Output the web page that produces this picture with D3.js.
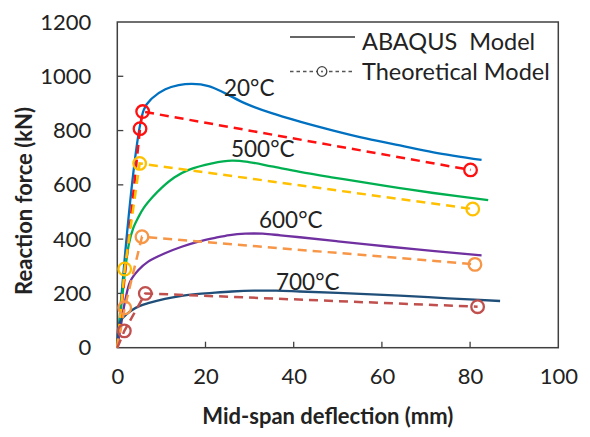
<!DOCTYPE html>
<html><head><meta charset="utf-8">
<script src="https://cdn.jsdelivr.net/npm/d3@7"></script>
<style>
html,body{margin:0;padding:0;background:#fff;}
svg{display:block;font-family:Lato,"Open Sans",sans-serif;}
</style></head>
<body><svg id="chart" width="590" height="437"></svg>
<script>
// ---- data ----
const xTicks = [0, 20, 40, 60, 80, 100];
const yTicks = [0, 200, 400, 600, 800, 1000, 1200];
const seriesNames = ["20°C", "500°C", "600°C", "700°C"];

const abaqus20X = [0, 6.0, 7.9, 10.9, 13.9, 16.9, 20.7, 24.5, 29.0, 35.0, 41.4, 49.0, 56.6, 64.1, 71.7, 82.6];
const abaqus20Y = [0, 876, 919, 952, 967, 972, 964, 937, 900, 864, 833, 800, 770, 745, 720, 692];

const abaqus500X = [0, 2.6, 3.6, 4.85, 6.0, 8.0, 10.1, 13.0, 16.2, 21.5, 26.0, 29.8, 35.0, 41.4, 49.0, 56.6, 64.1, 71.7, 84.1];
const abaqus500Y = [0, 380, 440, 483, 515, 555, 590, 628, 655, 679, 689, 684, 668, 648, 627, 607, 588, 570, 544];

const abaqus600X = [0, 1.0, 1.75, 2.9, 4.8, 7.0, 10.8, 14.6, 18.4, 22.2, 25.5, 29.0, 33.0, 37.0, 41.4, 50.0, 61.8, 72.0, 82.6];
const abaqus600Y = [0, 100, 170, 243, 286, 317, 348, 372, 391, 405, 415, 420, 420, 414, 407, 392, 372, 356, 340];

const abaqus700X = [0, 0.3, 1.0, 2.0, 3.3, 5.0, 7.0, 10.8, 14.6, 18.4, 22.2, 26.0, 31.0, 36.0, 41.4, 50.0, 64.0, 75.0, 86.8];
const abaqus700Y = [0, 80, 105, 122, 138, 153, 164, 180, 191, 198, 203, 207, 210, 210, 207, 202, 192, 182, 172];

const theory20X = [0, 5.15, 5.75, 80.1];
const theory20Y = [0, 807, 870, 655];
const theory500X = [0, 1.68, 5.07, 80.6];
const theory500Y = [0, 290, 679, 511];
const theory600X = [0, 1.68, 5.6, 81.1];
const theory600Y = [0, 147, 409, 307];
const theory700X = [0, 1.6, 6.35, 81.7];
const theory700Y = [0, 62, 200, 151];

const abaqusColors = ["#0070c0", "#00b050", "#7030a0", "#1f4e79"];
const theoryColors = ["#ff1010", "#ffc000", "#f79646", "#c0504d"];

// ---- layout ----
const svg = d3.select("#chart");
const L = 117.3, R = 558.3, T = 22, B = 347.7;
const x = d3.scaleLinear().domain([0, 100]).range([L, R]);
const y = d3.scaleLinear().domain([0, 1200]).range([B, T]);

const zip = (xs, ys) => xs.map((v, i) => [v, ys[i]]);
const abaqus = [zip(abaqus20X, abaqus20Y), zip(abaqus500X, abaqus500Y), zip(abaqus600X, abaqus600Y), zip(abaqus700X, abaqus700Y)];
const theory = [zip(theory20X, theory20Y), zip(theory500X, theory500Y), zip(theory600X, theory600Y), zip(theory700X, theory700Y)];

// axes
const axisColor = "#404040";
const fmt = d3.format("d");
const gx = svg.append("g").attr("transform", `translate(0,${B})`)
  .call(d3.axisBottom(x).tickValues(xTicks).tickFormat(fmt).tickSize(0).tickPadding(21));
gx.select(".domain").remove();
gx.selectAll("text").attr("font-size", 22).attr("fill", "#222").attr("font-family", "Lato");

const gy = svg.append("g").attr("transform", `translate(${L},0)`)
  .call(d3.axisLeft(y).tickValues(yTicks).tickFormat(fmt).tickSize(0).tickPadding(26));
gy.select(".domain").remove();
gy.selectAll("text").attr("font-size", 22).attr("fill", "#222").attr("font-family", "Lato");

// inward ticks
svg.append("g").selectAll("line").data(yTicks.slice(1, -1)).join("line")
  .attr("x1", L).attr("x2", L + 6).attr("y1", d => y(d)).attr("y2", d => y(d))
  .attr("stroke", axisColor).attr("stroke-width", 1.3);
svg.append("g").selectAll("line").data(xTicks.slice(1, -1)).join("line")
  .attr("x1", d => x(d)).attr("x2", d => x(d)).attr("y1", B).attr("y2", B - 6)
  .attr("stroke", axisColor).attr("stroke-width", 1.3);

// plot box
svg.append("rect").attr("x", L).attr("y", T).attr("width", R - L).attr("height", B - T)
  .attr("fill", "none").attr("stroke", axisColor).attr("stroke-width", 1.5);

// curves
const line = d3.line().x(d => x(d[0])).y(d => y(d[1])).curve(d3.curveCatmullRom.alpha(0.5));
const lineStraight = d3.line().x(d => x(d[0])).y(d => y(d[1]));

const gC = svg.append("g");
abaqus.forEach((s, i) => {
  gC.append("path").attr("d", line(s)).attr("fill", "none")
    .attr("stroke", abaqusColors[i]).attr("stroke-width", 2.3);
});
theory.forEach((s, i) => {
  gC.append("path").attr("d", lineStraight(s)).attr("fill", "none")
    .attr("stroke", theoryColors[i]).attr("stroke-width", 2.5).attr("stroke-dasharray", "9,6");
});
theory.forEach((s, i) => {
  gC.append("g").selectAll("circle").data(s.slice(1)).join("circle")
    .attr("cx", d => x(d[0])).attr("cy", d => y(d[1])).attr("r", 6.3)
    .attr("fill", "none").attr("stroke", theoryColors[i]).attr("stroke-width", 2.3);
});

// series labels
const labelPos = [[224, 96], [231, 157], [259, 228], [276, 290]];
svg.append("g").selectAll("text").data(seriesNames).join("text")
  .attr("x", (d, i) => labelPos[i][0]).attr("y", (d, i) => labelPos[i][1])
  .attr("font-size", 22.5).attr("fill", "#222").text(d => d);

// axis titles
svg.append("text").attr("x", (L + R) / 2 - 10).attr("y", 424).attr("text-anchor", "middle")
  .attr("font-size", 22).attr("font-weight", "bold").attr("fill", "#222").text("Mid-span deflection (mm)");
svg.append("text").attr("transform", "translate(32,201) rotate(-90)").attr("text-anchor", "middle")
  .attr("font-size", 22).attr("font-weight", "bold").attr("fill", "#222").text("Reaction force (kN)");

// legend
const lg = svg.append("g");
lg.append("line").attr("x1", 290).attr("x2", 355).attr("y1", 37).attr("y2", 37)
  .attr("stroke", "#333").attr("stroke-width", 1.5);
lg.append("line").attr("x1", 290).attr("x2", 355).attr("y1", 71.5).attr("y2", 71.5)
  .attr("stroke", "#555").attr("stroke-width", 1.3).attr("stroke-dasharray", "3.5,3");
lg.append("circle").attr("cx", 322).attr("cy", 71.5).attr("r", 4.8)
  .attr("fill", "#fff").attr("stroke", "#444").attr("stroke-width", 1.3);
lg.append("circle").attr("cx", 322).attr("cy", 71.5).attr("r", 0.9).attr("fill", "#444");
lg.append("text").attr("x", 362).attr("y", 50).attr("font-size", 23.5).attr("fill", "#222")
  .style("white-space", "pre").text("ABAQUS  Model");
lg.append("text").attr("x", 362).attr("y", 79.5).attr("font-size", 23.5).attr("fill", "#222").text("Theoretical Model");
</script></body></html>
